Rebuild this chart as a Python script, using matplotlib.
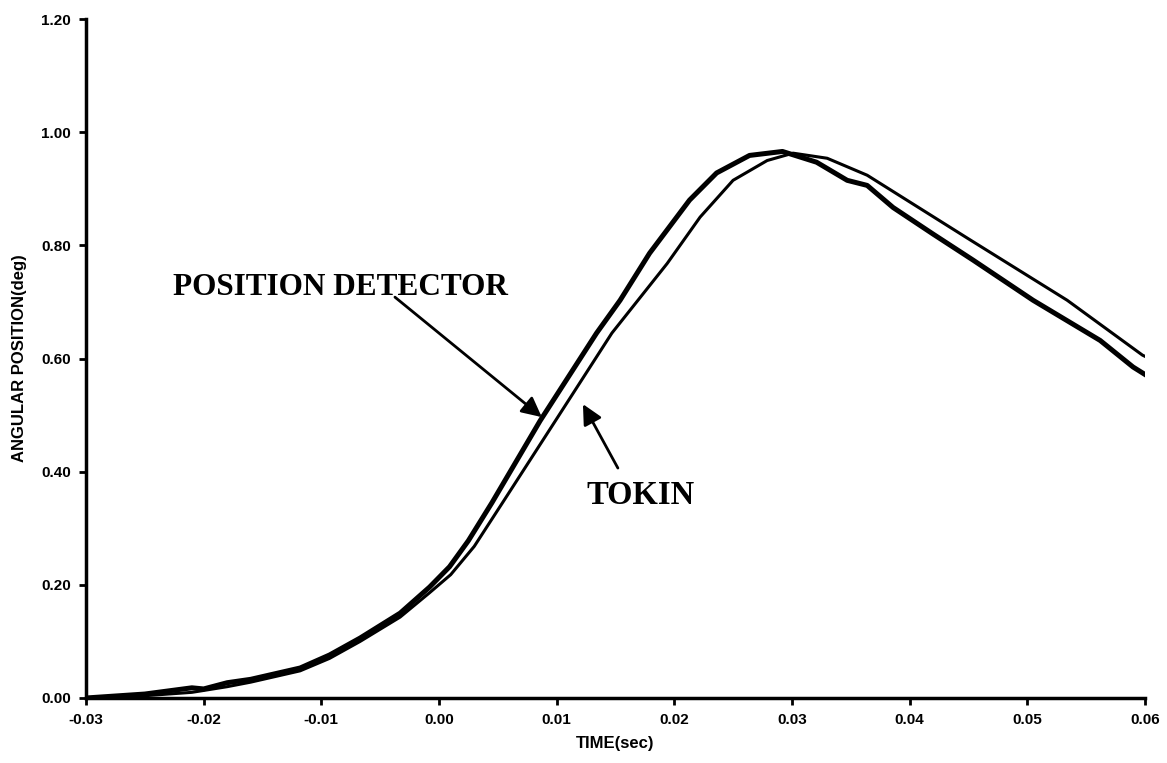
import matplotlib
matplotlib.use("Agg")
import matplotlib.pyplot as plt

# values
pd_time = [-0.030, -0.025, -0.021, -0.020, -0.018, -0.016, -0.0118, -0.0093,
           -0.0067, -0.0033, -0.0008, 0.0009, 0.0025, 0.0045, 0.0086, 0.0134,
           0.0154, 0.0179, 0.0213, 0.0236, 0.0264, 0.0292, 0.0321, 0.0347,
           0.0364, 0.0386, 0.0420, 0.0454, 0.0505, 0.0562, 0.0590, 0.0600]
pd_angle = [0.000, 0.007, 0.018, 0.016, 0.027, 0.033, 0.053, 0.076,
            0.106, 0.150, 0.196, 0.232, 0.278, 0.345, 0.490, 0.645,
            0.703, 0.786, 0.880, 0.928, 0.959, 0.966, 0.947, 0.915,
            0.906, 0.867, 0.820, 0.774, 0.703, 0.632, 0.585, 0.572]

tokin_time = [-0.030, -0.025, -0.021, -0.018, -0.016, -0.0118, -0.0093, -0.0067,
              -0.0033, -0.0008, 0.0010, 0.0030, 0.0054, 0.0099, 0.0147, 0.0194,
              0.0222, 0.0250, 0.0279, 0.0301, 0.0330, 0.0364, 0.0449, 0.0534,
              0.0598, 0.0600]
tokin_angle = [0.000, 0.004, 0.010, 0.020, 0.028, 0.048, 0.070, 0.100,
               0.143, 0.186, 0.218, 0.268, 0.345, 0.490, 0.645, 0.768,
               0.850, 0.915, 0.950, 0.963, 0.954, 0.924, 0.813, 0.703,
               0.606, 0.604]

x_ticks = [-0.03, -0.02, -0.01, 0.00, 0.01, 0.02, 0.03, 0.04, 0.05, 0.06]
y_ticks = [0.00, 0.20, 0.40, 0.60, 0.80, 1.00, 1.20]

sans = "Liberation Sans"
serif = "Liberation Serif"

fig = plt.figure(figsize=(11.67, 7.63), dpi=100)
ax = fig.add_axes([0.0737, 0.0852, 0.9073, 0.8898])

ax.plot(pd_time, pd_angle, color="black", linewidth=3.6, solid_joinstyle="round")
ax.plot(tokin_time, tokin_angle, color="black", linewidth=2.2, solid_joinstyle="round")

ax.set_xlim(-0.03, 0.06)
ax.set_ylim(0, 1.2)
ax.set_xticks(x_ticks)
ax.set_yticks(y_ticks)
ax.set_xticklabels([f"{v:.2f}" for v in x_ticks], fontfamily=sans, fontweight="bold", fontsize=11)
ax.set_yticklabels([f"{v:.2f}" for v in y_ticks], fontfamily=sans, fontweight="bold", fontsize=11)
ax.tick_params(direction="out", length=5, width=2, pad=6)

for side in ["top", "right"]:
    ax.spines[side].set_visible(False)
for side in ["left", "bottom"]:
    ax.spines[side].set_linewidth(2.5)

ax.set_xlabel("TIME(sec)", fontfamily=sans, fontweight="bold", fontsize=12, labelpad=6)
ax.set_ylabel("ANGULAR POSITION(deg)", fontfamily=sans, fontweight="bold", fontsize=12, labelpad=10)

# annotations
ax.annotate("", xy=(0.00874, 0.4965), xytext=(-0.00374, 0.7085),
            arrowprops=dict(arrowstyle="-|>", color="black", lw=2,
                            mutation_scale=30, shrinkA=0, shrinkB=0))
ax.text(-0.02257, 0.7261, "POSITION DETECTOR", fontfamily=serif, fontweight="bold",
        fontsize=22.5, ha="left", va="center")

ax.annotate("", xy=(0.01224, 0.5194), xytext=(0.01521, 0.4064),
            arrowprops=dict(arrowstyle="-|>", color="black", lw=2,
                            mutation_scale=30, shrinkA=0, shrinkB=0))
ax.text(0.01717, 0.3578, "TOKIN", fontfamily=serif, fontweight="bold",
        fontsize=23.5, ha="center", va="center")

fig.savefig("out.png", dpi=100)
